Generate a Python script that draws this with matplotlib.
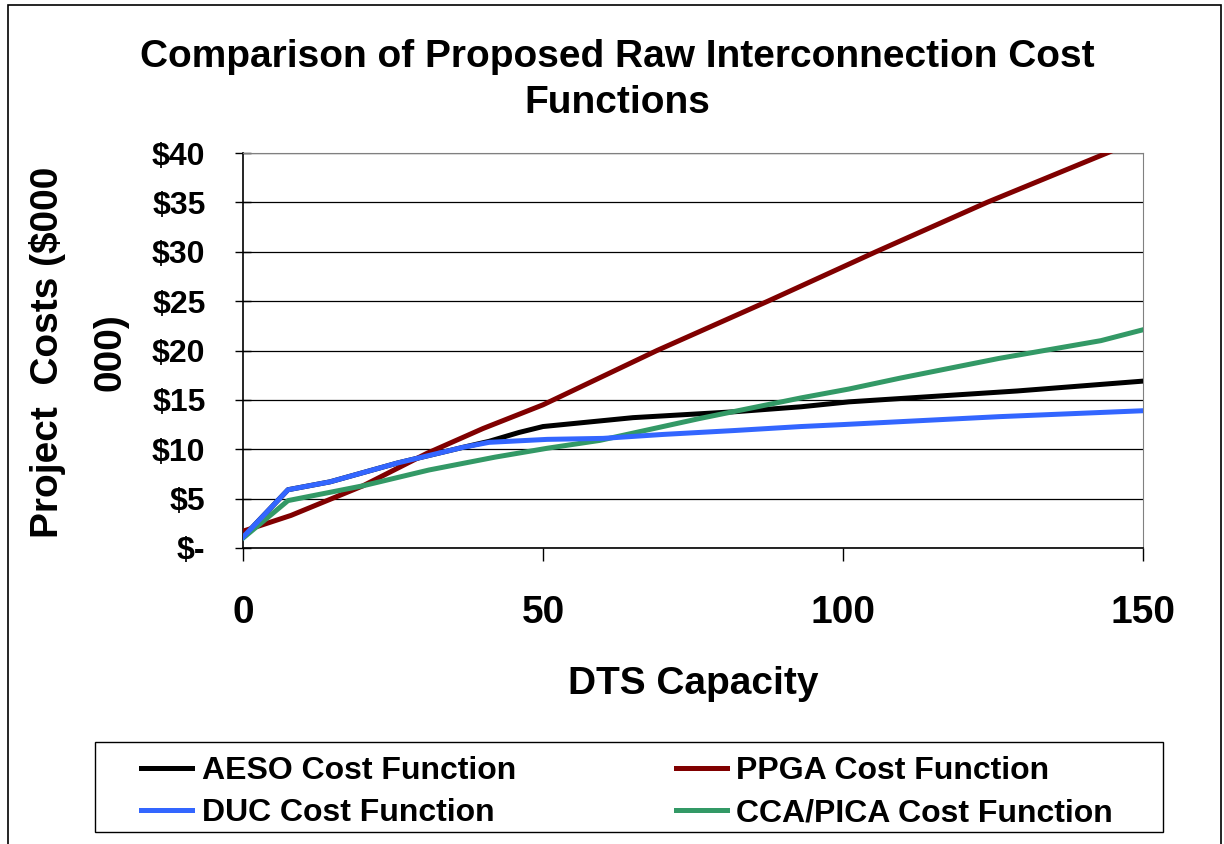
import numpy as np
import matplotlib
matplotlib.use('Agg')
import matplotlib.pyplot as plt
from matplotlib.patches import Rectangle

plt.rcParams['font.family'] = ['Liberation Sans', 'DejaVu Sans']
plt.rcParams['font.weight'] = 'bold'

# Values (DTS capacity vs project cost, $ millions)
aeso_x = [0, 7.5, 14.5, 25.7, 36.7, 41, 46, 50, 65, 82, 93, 101, 129, 150]
aeso_y = [1.1, 5.9, 6.7, 8.6, 10.2, 10.8, 11.7, 12.3, 13.2, 13.8, 14.3, 14.8, 15.9, 16.9]

ppga_x = [0, 8, 20, 30.7, 40, 50, 69, 87.5, 105.5, 124, 144, 150]
ppga_y = [1.7, 3.3, 6.3, 9.6, 12.1, 14.5, 20.0, 25.0, 30.0, 35.0, 40.0, 41.6]

duc_x = [0, 7.5, 14.5, 25.7, 36.7, 41, 50.7, 60, 70, 82, 93, 100, 126, 150]
duc_y = [1.1, 5.9, 6.7, 8.6, 10.2, 10.7, 11.0, 11.1, 11.5, 11.9, 12.3, 12.5, 13.3, 13.9]

cca_x = [0, 7.5, 20, 31, 42, 50.7, 59.5, 76, 93, 101, 109.5, 126, 143, 150]
cca_y = [1.0, 4.8, 6.3, 7.9, 9.2, 10.1, 10.9, 13.1, 15.2, 16.1, 17.2, 19.2, 21.0, 22.1]

series_names = ['AESO Cost Function', 'PPGA Cost Function',
                'DUC Cost Function', 'CCA/PICA Cost Function']
series_colors = ['#000000', '#800000', '#3366FF', '#339966']

y_ticks = [0, 5, 10, 15, 20, 25, 30, 35, 40]
y_tick_labels = ['$-', '$5', '$10', '$15', '$20', '$25', '$30', '$35', '$40']
x_ticks = [0, 50, 100, 150]

W, H = 1224, 844
fig = plt.figure(figsize=(W / 100, H / 100), dpi=100)
ax = fig.add_axes([243 / W, 1 - 548 / H, 900 / W, 395 / H])

# chart area border
fig.patches.append(Rectangle((8 / W, -0.05), 1213 / W, 1.05 - 5 / H,
                             transform=fig.transFigure, fill=False,
                             edgecolor='black', linewidth=1.2))

lw = 3.6
l_aeso, = ax.plot(aeso_x, aeso_y, color=series_colors[0], lw=lw, zorder=3)
l_ppga, = ax.plot(ppga_x, ppga_y, color=series_colors[1], lw=lw, zorder=3)
l_duc, = ax.plot(duc_x, duc_y, color=series_colors[2], lw=lw, zorder=4)
l_cca, = ax.plot(cca_x, cca_y, color=series_colors[3], lw=lw, zorder=3)

ax.set_xlim(0, 150)
ax.set_ylim(0, 40)
ax.set_yticks(y_ticks)
ax.set_yticklabels(y_tick_labels)
ax.set_xticks(x_ticks)
ax.yaxis.grid(True, color='black', linewidth=0.9)
ax.set_axisbelow(True)

ax.spines['top'].set_color('#808080')
ax.spines['right'].set_color('#808080')
ax.spines['left'].set_linewidth(1.2)
ax.spines['bottom'].set_linewidth(1.2)

ax.tick_params(axis='y', direction='inout', length=12, width=1, labelsize=23, pad=21)
ax.tick_params(axis='x', direction='out', length=9, width=1, labelsize=28, pad=25)

ax.set_xlabel('DTS Capacity', fontsize=28, fontweight='bold', labelpad=25)

# y label placed by hand (two lines, wide spacing like the original)
fig.text(79 / W, 1 - 352 / H, 'Project  Costs ($000\n000)', rotation=90,
         ha='center', va='center', fontsize=28, fontweight='bold',
         linespacing=1.95)

fig.text(617 / W, 1 - 80 / H,
         'Comparison of Proposed Raw Interconnection Cost\nFunctions',
         ha='center', va='center', fontsize=28, fontweight='bold', linespacing=1.37)

# legend box drawn separately, entries ordered so rows read across
fig.patches.append(Rectangle((95 / W, 1 - 832 / H), 1068 / W, 90 / H,
                             transform=fig.transFigure, fill=False,
                             edgecolor='black', linewidth=1.0))
fig.legend([l_aeso, l_duc, l_ppga, l_cca],
           [series_names[0], series_names[2], series_names[1], series_names[3]],
           loc='center', ncol=2, bbox_to_anchor=(627 / W, 1 - 792 / H),
           fontsize=23, frameon=False, handlelength=1.6, handletextpad=0.3,
           columnspacing=5.0, labelspacing=0.38, borderaxespad=0, borderpad=0)

fig.savefig('out.png', dpi=100)
